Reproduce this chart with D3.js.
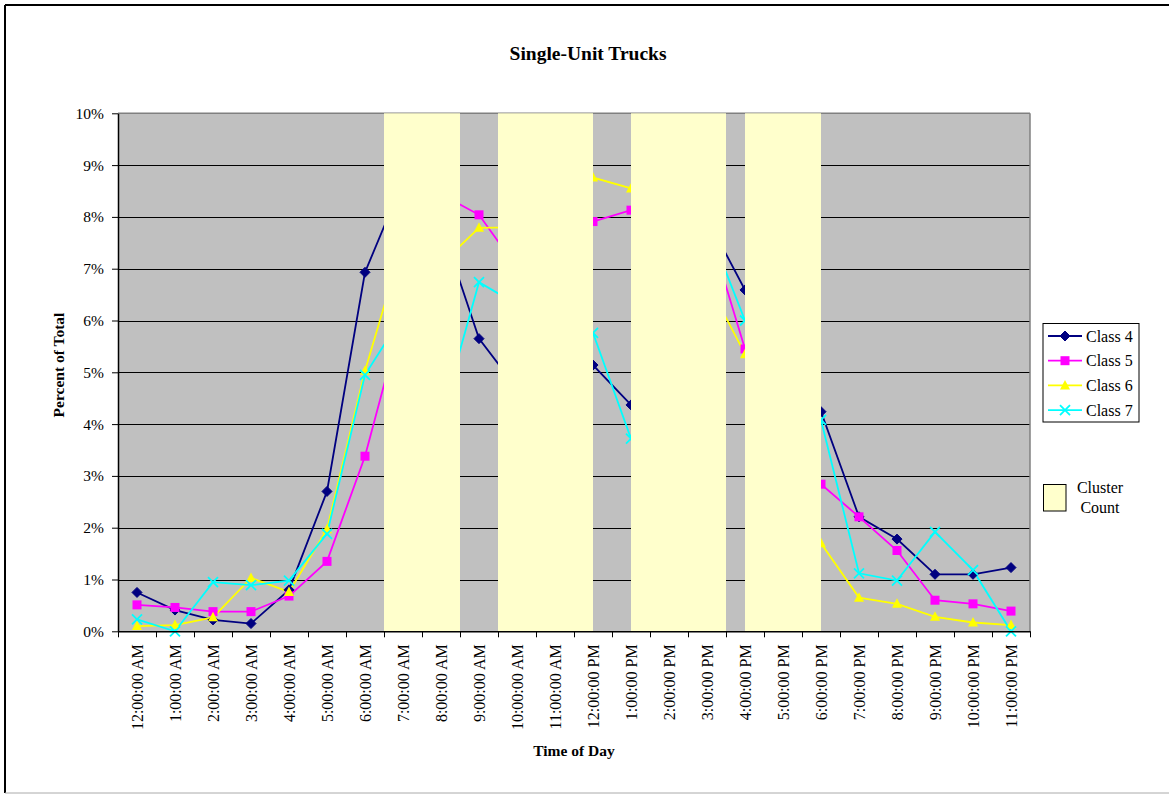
<!DOCTYPE html>
<html>
<head>
<meta charset="utf-8">
<script src="https://cdn.jsdelivr.net/npm/d3@7"></script>
<style>
  html, body { margin: 0; padding: 0; background: #fff; }
  svg { display: block; font-family: "Liberation Serif", "Times New Roman", serif; }
</style>
</head>
<body>
<svg id="chart" width="1169" height="794"></svg>
<script>
// ---------------- DATA ----------------
const hours = ["12:00:00 AM","1:00:00 AM","2:00:00 AM","3:00:00 AM","4:00:00 AM","5:00:00 AM",
  "6:00:00 AM","7:00:00 AM","8:00:00 AM","9:00:00 AM","10:00:00 AM","11:00:00 AM",
  "12:00:00 PM","1:00:00 PM","2:00:00 PM","3:00:00 PM","4:00:00 PM","5:00:00 PM",
  "6:00:00 PM","7:00:00 PM","8:00:00 PM","9:00:00 PM","10:00:00 PM","11:00:00 PM"];

// percent of total
const class4 = [0.75,0.41,0.22,0.15,0.80,2.70,6.93,8.69,7.84,5.65,4.69,4.90,5.14,4.37,8.20,7.98,6.59,5.50,4.24,2.21,1.78,1.10,1.10,1.23];
const class5 = [0.51,0.46,0.38,0.38,0.68,1.35,3.38,6.13,8.44,8.04,7.02,7.30,7.91,8.13,8.00,7.87,5.45,4.00,2.84,2.21,1.56,0.60,0.53,0.39];
const class6 = [0.10,0.12,0.27,1.03,0.76,1.97,5.03,7.50,7.09,7.79,7.80,8.30,8.76,8.55,7.80,6.76,5.35,3.50,1.70,0.65,0.53,0.28,0.17,0.12];
const class7 = [0.23,0.00,0.95,0.89,0.98,1.88,4.95,6.10,4.11,6.74,6.31,6.00,5.76,3.72,7.50,7.87,6.00,5.00,4.08,1.12,0.98,1.92,1.18,0.00];

// cluster count bands, in hours from midnight
const clusterStart = [7, 10, 13.5, 16.5];
const clusterEnd   = [9, 12.5, 16, 18.5];

const yTicks = [0,1,2,3,4,5,6,7,8,9,10];
const seriesNames = ["Class 4","Class 5","Class 6","Class 7"];

// ---------------- LAYOUT ----------------
const svg = d3.select("#chart");
const L = 118, R = 1030, T = 113.3, B = 631.3;

const x = d3.scaleBand().domain(hours).range([L, R]).padding(0);
const xh = d3.scaleLinear().domain([0, 24]).range([L, R]);
const y = d3.scaleLinear().domain([0, 10]).range([B, T]);

// outer border
svg.append("line").attr("x1",5).attr("y1",5).attr("x2",1169).attr("y2",5).attr("stroke","#000").attr("stroke-width",2);
svg.append("line").attr("x1",5).attr("y1",5).attr("x2",5).attr("y2",793).attr("stroke","#000").attr("stroke-width",2);
svg.append("line").attr("x1",5).attr("y1",793).attr("x2",1169).attr("y2",793).attr("stroke","#aaa").attr("stroke-width",1);

// plot background
svg.append("rect").attr("x",L).attr("y",T).attr("width",R-L).attr("height",B-T).attr("fill","#C0C0C0");

// gridlines
svg.append("g").selectAll("line").data(yTicks.filter(d => d > 0 && d < 10)).join("line")
  .attr("x1",L).attr("x2",R).attr("y1",d => Math.round(y(d))+0.5).attr("y2",d => Math.round(y(d))+0.5)
  .attr("stroke","#000").attr("stroke-width",1);

// plot border top/right
svg.append("line").attr("x1",L).attr("x2",R).attr("y1",T).attr("y2",T).attr("stroke","#808080").attr("stroke-width",1.5);
svg.append("line").attr("x1",R).attr("x2",R).attr("y1",T).attr("y2",B).attr("stroke","#808080").attr("stroke-width",1.5);

// series
const series = [
  {name:"Class 4", values:class4, color:"#000080", marker:"diamond"},
  {name:"Class 5", values:class5, color:"#FF00FF", marker:"square"},
  {name:"Class 6", values:class6, color:"#FFFF00", marker:"triangle"},
  {name:"Class 7", values:class7, color:"#00FFFF", marker:"x"}
];

function drawMarker(g, type, color, cx, cy) {
  if (type === "diamond") {
    g.append("path").attr("d", `M${cx},${cy-5}L${cx+5},${cy}L${cx},${cy+5}L${cx-5},${cy}Z`).attr("fill", color).attr("stroke", color);
  } else if (type === "square") {
    g.append("rect").attr("x", cx-4.5).attr("y", cy-4.5).attr("width", 9).attr("height", 9).attr("fill", color);
  } else if (type === "triangle") {
    g.append("path").attr("d", `M${cx},${cy-5.5}L${cx+5},${cy+4}L${cx-5},${cy+4}Z`).attr("fill", color);
  } else if (type === "x") {
    g.append("path").attr("d", `M${cx-5},${cy-5}L${cx+5},${cy+5}M${cx+5},${cy-5}L${cx-5},${cy+5}`).attr("stroke", color).attr("stroke-width", 1.8).attr("fill","none");
  }
}

const line = d3.line().x((d,i) => x(hours[i]) + x.bandwidth()/2).y(d => y(d));
const gS = svg.append("g");
series.forEach(s => {
  gS.append("path").datum(s.values).attr("d", line).attr("fill","none").attr("stroke", s.color).attr("stroke-width", 1.8);
});
series.forEach(s => {
  const gm = gS.append("g");
  s.values.forEach((v,i) => drawMarker(gm, s.marker, s.color, x(hours[i]) + x.bandwidth()/2, y(v)));
});

// cluster bands (on top)
svg.append("g").selectAll("rect").data(clusterStart).join("rect")
  .attr("x", (d,i) => xh(d)).attr("width", (d,i) => xh(clusterEnd[i]) - xh(d))
  .attr("y", T).attr("height", B - T).attr("fill", "#FFFFCC");

// y axis
const yAxis = svg.append("g").attr("transform", `translate(${L},0)`)
  .call(d3.axisLeft(y).tickValues(yTicks).tickFormat(d => d + "%").tickSize(6).tickSizeOuter(0));
yAxis.select(".domain").attr("stroke","#000").attr("stroke-width",1.5);
yAxis.selectAll(".tick line").attr("stroke","#000");
yAxis.selectAll(".tick text").attr("font-family","Liberation Serif").attr("font-size","15.5px").attr("fill","#000").attr("x",-14);

// x axis ticks at category boundaries
const xTickAxis = svg.append("g").attr("transform", `translate(0,${B})`)
  .call(d3.axisBottom(xh).tickValues(d3.range(25)).tickFormat("").tickSize(6).tickSizeOuter(0));
xTickAxis.select(".domain").attr("stroke","#000").attr("stroke-width",1.5);
xTickAxis.selectAll(".tick line").attr("stroke","#000");

// x labels
const xLab = svg.append("g").attr("transform", `translate(0,${B})`)
  .call(d3.axisBottom(x).tickSize(0));
xLab.select(".domain").remove();
xLab.selectAll(".tick text")
  .attr("font-family","Liberation Serif").attr("font-size","16px").attr("fill","#000")
  .attr("transform","rotate(-90)").attr("text-anchor","end")
  .attr("x",-13).attr("y",0).attr("dy","0.35em");

// titles
svg.append("text").attr("x",588).attr("y",60).attr("text-anchor","middle")
  .attr("font-weight","bold").attr("font-size","19.5px").text("Single-Unit Trucks");
svg.append("text").attr("x",574).attr("y",756).attr("text-anchor","middle")
  .attr("font-weight","bold").attr("font-size","15.5px").text("Time of Day");
svg.append("text").attr("transform","translate(64,365) rotate(-90)").attr("text-anchor","middle")
  .attr("font-weight","bold").attr("font-size","15.5px").text("Percent of Total");

// legend
const lg = svg.append("g");
lg.append("rect").attr("x",1043).attr("y",323.5).attr("width",96).attr("height",98.5)
  .attr("fill","#fff").attr("stroke","#000").attr("stroke-width",1);
series.forEach((s,i) => {
  const yy = 336 + i*24.7;
  lg.append("line").attr("x1",1048).attr("x2",1082).attr("y1",yy).attr("y2",yy).attr("stroke",s.color).attr("stroke-width",1.8);
  drawMarker(lg, s.marker, s.color, 1065, yy);
  lg.append("text").attr("x",1086).attr("y",yy).attr("dy","0.35em").attr("font-size","16px").text(seriesNames[i]);
});
lg.append("rect").attr("x",1043.5).attr("y",484.5).attr("width",22.5).attr("height",26.5)
  .attr("fill","#FFFFCC").attr("stroke","#000").attr("stroke-width",1);
lg.append("text").attr("x",1100).attr("y",492.5).attr("text-anchor","middle").attr("font-size","16px").text("Cluster");
lg.append("text").attr("x",1100).attr("y",513).attr("text-anchor","middle").attr("font-size","16px").text("Count");
</script>
</body>
</html>
